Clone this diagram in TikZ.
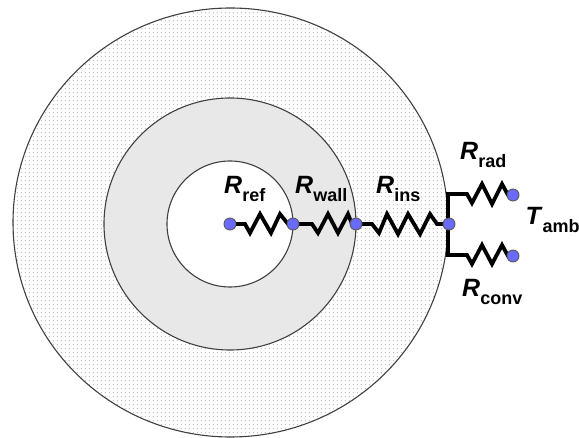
\documentclass[tikz,border=0pt]{standalone}
\usepackage{fontspec}
\setmainfont{Liberation Sans}
\usetikzlibrary{patterns}
\definecolor{nodeblue}{HTML}{6A6AFF}
\definecolor{ringgray}{HTML}{E8E8E8}
\definecolor{dotgray}{HTML}{C2C2C2}
\pgfdeclarepatternformonly{finedots}{\pgfqpoint{0pt}{0pt}}{\pgfqpoint{4.3pt}{4.3pt}}{\pgfqpoint{4.3pt}{4.3pt}}{%
  \pgfpathrectangle{\pgfqpoint{1pt}{1pt}}{\pgfqpoint{1.2pt}{1.2pt}}\pgfusepath{fill}}
\tikzset{x=1pt,y=-1pt,
  ring/.style={draw=black!75,line width=1.1pt},
  wire/.style={line width=3.8pt,line join=miter,miter limit=4,line cap=butt},
  pin/.style={circle,fill=nodeblue,draw=black!65,line width=0.9pt,minimum size=12pt,inner sep=0pt},
  lab/.style={inner sep=0pt,font=\fontsize{25}{28}\selectfont\bfseries}
}
\newcommand{\RLab}[2]{\textit{#1}\raisebox{-8pt}{\fontsize{18}{20}\selectfont #2}}
\begin{document}
\begin{tikzpicture}
\useasboundingbox (0,0) rectangle (579,438);
\fill[white] (0,0) rectangle (579,438);
\fill[pattern=finedots,pattern color=dotgray] (230.5,222.5) ellipse (217.5 and 214.5);
\draw[ring] (230.5,222.5) ellipse (217.5 and 214.5);
\fill[ringgray] (230,224) circle (126);
\draw[ring] (230,224) circle (126);
\fill[white] (230,224) circle (63);
\draw[ring] (230,224) circle (63);
\coordinate (a) at (230,224);
\coordinate (b) at (293,224);
\coordinate (c) at (356,224);
\coordinate (d) at (449,224);
\coordinate (e) at (513,195);
\coordinate (f) at (513,256);
\coordinate (up) at (448,194);
\coordinate (dn) at (448,255);
\draw[wire] (a) -- (245,224) -- (250,233) -- (260,214) -- (271,233) -- (280,214) -- (288,224) -- (b);
\draw[wire] (b) -- (312,224) -- (318,233) -- (328,214) -- (338,233) -- (348,214) -- (352,224) -- (c);
\draw[wire] (c) -- (372,224) -- (379,233) -- (387,214) -- (398,234) -- (408,214) -- (420,234) -- (430,214) -- (437,224) -- (d);
\draw[wire,line cap=rect] (up) -- (dn);
\draw[wire] (up) -- (467,194) -- (472,203) -- (482,184) -- (492,204) -- (502,184) -- (508,195) -- (e);
\draw[wire] (dn) -- (467,255) -- (472,264) -- (482,245) -- (492,264) -- (502,245) -- (508,256) -- (f);
\node[pin] (pa) at (a) {};
\node[pin] (pb) at (b) {};
\node[pin] (pc) at (c) {};
\node[pin] (pd) at (d) {};
\node[pin] (pe) at (e) {};
\node[pin] (pf) at (f) {};
\node[lab,anchor=base west] (t1) at (224,194) {\RLab{R}{ref}};
\node[lab,anchor=base west] (t2) at (295,194) {\RLab{R}{wall}};
\node[lab,anchor=base west] (t3) at (376,194) {\RLab{R}{ins}};
\node[lab,anchor=base west] (t4) at (460,160) {\RLab{R}{rad}};
\node[lab,anchor=base west] (t5) at (462,297) {\RLab{R}{conv}};
\node[lab,anchor=base west] (t6) at (525.5,225) {\RLab{T}{amb}};
\end{tikzpicture}
\end{document}
